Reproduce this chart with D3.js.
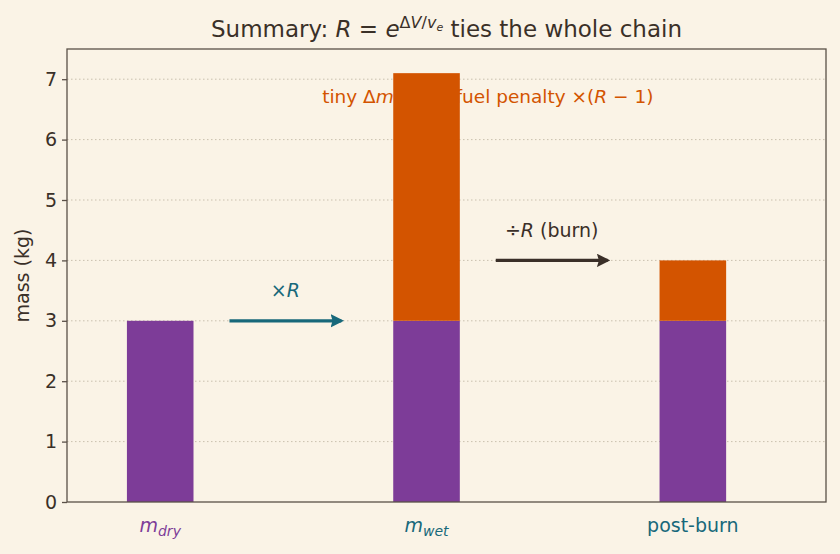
<!DOCTYPE html>
<html>
<head>
<meta charset="utf-8">
<script src="https://cdn.jsdelivr.net/npm/d3@7"></script>
<style>
  body { margin: 0; background: #faf3e6; }
  text { font-family: "DejaVu Sans", sans-serif; }
</style>
</head>
<body>
<div class="chart"></div>
<script>
// data
var categories = ["dry", "wet", "post"];
var baseMass = [3, 3, 3];          // dry mass part (purple)
var fuelMass = [0, 4.1, 1.0];      // fuel part on top (orange)
var yTicks = [0, 1, 2, 3, 4, 5, 6, 7];
var arrows = [
  {from: 0.26, to: 0.68, y: 3, label: "×R", ly: 3.5, color: "#17687a"},
  {from: 1.26, to: 1.68, y: 4, label: "÷R (burn)", ly: 4.5, color: "#3a2f28"}
];

var width = 840, height = 554;
var margin = {top: 49, right: 14, bottom: 52, left: 67};
var purple = "#7d3c98", orange = "#d35400", teal = "#17687a", ink = "#3a3028";
var fs = "19px";

var svg = d3.select(".chart").append("svg")
  .attr("width", width).attr("height", height)
  .style("background", "#faf3e6");

var x = d3.scaleLinear().domain([-0.35, 2.5]).range([margin.left, width - margin.right]);
var y = d3.scaleLinear().domain([0, 7.5]).range([height - margin.bottom, margin.top]);
var barW = x(0.25) - x(0);

// grid
svg.append("g").selectAll("line").data(yTicks.slice(1)).enter().append("line")
  .attr("x1", margin.left).attr("x2", width - margin.right)
  .attr("y1", function(d) { return y(d); }).attr("y2", function(d) { return y(d); })
  .style("stroke", "#c9c0ae").style("stroke-width", 1).style("stroke-dasharray", "1.5,2.5");

// annotation text (sits behind the wet bar)
var note = svg.append("text")
  .attr("x", x(1.23)).attr("y", y(6.72)).attr("dy", "0.35em")
  .attr("text-anchor", "middle").style("font-size", "18.5px").style("fill", orange);
note.append("tspan").text("tiny Δ");
note.append("tspan").style("font-style", "italic").text("m");
note.append("tspan").text(" → big fuel penalty ×(");
note.append("tspan").style("font-style", "italic").text("R");
note.append("tspan").text(" − 1)");

// bars
svg.append("g").selectAll("rect").data(categories).enter().append("rect")
  .attr("x", function(d, i) { return x(i) - barW / 2; })
  .attr("width", barW)
  .attr("y", function(d, i) { return y(baseMass[i]); })
  .attr("height", function(d, i) { return y(0) - y(baseMass[i]); })
  .style("fill", purple);

svg.append("g").selectAll("rect").data(categories).enter().append("rect")
  .attr("x", function(d, i) { return x(i) - barW / 2; })
  .attr("width", barW)
  .attr("y", function(d, i) { return y(baseMass[i] + fuelMass[i]); })
  .attr("height", function(d, i) { return y(baseMass[i]) - y(baseMass[i] + fuelMass[i]); })
  .style("fill", orange);

// arrows
var defs = svg.append("defs");
arrows.forEach(function(a, k) {
  defs.append("marker").attr("id", "head" + k)
    .attr("viewBox", "0 0 10 10").attr("refX", 8).attr("refY", 5)
    .attr("markerWidth", 4.2).attr("markerHeight", 4.2).attr("orient", "auto")
    .append("path").attr("d", "M0,0 L10,5 L0,10 L1.5,5 Z").style("fill", a.color);
  svg.append("line")
    .attr("x1", x(a.from)).attr("x2", x(a.to))
    .attr("y1", y(a.y)).attr("y2", y(a.y))
    .style("stroke", a.color).style("stroke-width", 3.2)
    .attr("marker-end", "url(#head" + k + ")");
  var t = svg.append("text")
    .attr("x", x((a.from + a.to) / 2)).attr("y", y(a.ly)).attr("dy", "0.35em")
    .attr("text-anchor", "middle").style("font-size", fs).style("fill", a.color);
  if (k === 0) {
    t.append("tspan").text("×");
    t.append("tspan").style("font-style", "italic").text("R");
  } else {
    t.append("tspan").text("÷");
    t.append("tspan").style("font-style", "italic").text("R");
    t.append("tspan").text(" (burn)");
  }
});

// axes
var yAxis = svg.append("g")
  .attr("transform", "translate(" + margin.left + ",0)")
  .call(d3.axisLeft(y).tickValues(yTicks).tickSize(5).tickPadding(5));
yAxis.select(".domain").remove();
yAxis.selectAll("line").style("stroke", "#5a5048").style("stroke-width", 1.3);
yAxis.selectAll("text").style("font-size", fs).style("fill", ink).style("font-family", "DejaVu Sans");

svg.append("rect")
  .attr("x", margin.left).attr("y", margin.top)
  .attr("width", width - margin.right - margin.left)
  .attr("height", height - margin.bottom - margin.top)
  .style("fill", "none").style("stroke", "#5a5048").style("stroke-width", 1.3);

// x tick labels
var xl = svg.append("g");
var t0 = xl.append("text").attr("x", x(0)).attr("y", y(0) + 30)
  .attr("text-anchor", "middle").style("font-size", fs).style("fill", purple);
t0.append("tspan").style("font-style", "italic").text("m");
t0.append("tspan").style("font-style", "italic").style("font-size", "14px").attr("dy", 4).text("dry");
var t1 = xl.append("text").attr("x", x(1)).attr("y", y(0) + 30)
  .attr("text-anchor", "middle").style("font-size", fs).style("fill", teal);
t1.append("tspan").style("font-style", "italic").text("m");
t1.append("tspan").style("font-style", "italic").style("font-size", "14px").attr("dy", 4).text("wet");
xl.append("text").attr("x", x(2)).attr("y", y(0) + 30)
  .attr("text-anchor", "middle").style("font-size", fs).style("fill", teal).text("post-burn");

// y label
svg.append("text")
  .attr("transform", "translate(29," + ((margin.top + height - margin.bottom) / 2) + ") rotate(-90)")
  .attr("text-anchor", "middle").style("font-size", fs).style("fill", ink).text("mass (kg)");

// title
var title = svg.append("text")
  .attr("x", (margin.left + width - margin.right) / 2).attr("y", 37)
  .attr("text-anchor", "middle").style("font-size", "23px").style("fill", ink);
title.append("tspan").text("Summary: ");
title.append("tspan").style("font-style", "italic").text("R");
title.append("tspan").text(" = ");
title.append("tspan").style("font-style", "italic").text("e");
title.append("tspan").attr("dy", -9).style("font-size", "16px").text("Δ");
title.append("tspan").style("font-size", "16px").style("font-style", "italic").text("V");
title.append("tspan").style("font-size", "16px").text("/");
title.append("tspan").style("font-size", "16px").style("font-style", "italic").text("v");
title.append("tspan").attr("dy", 3).style("font-size", "11px").style("font-style", "italic").text("e");
title.append("tspan").attr("dy", 6).text(" ties the whole chain");
</script>
</body>
</html>
